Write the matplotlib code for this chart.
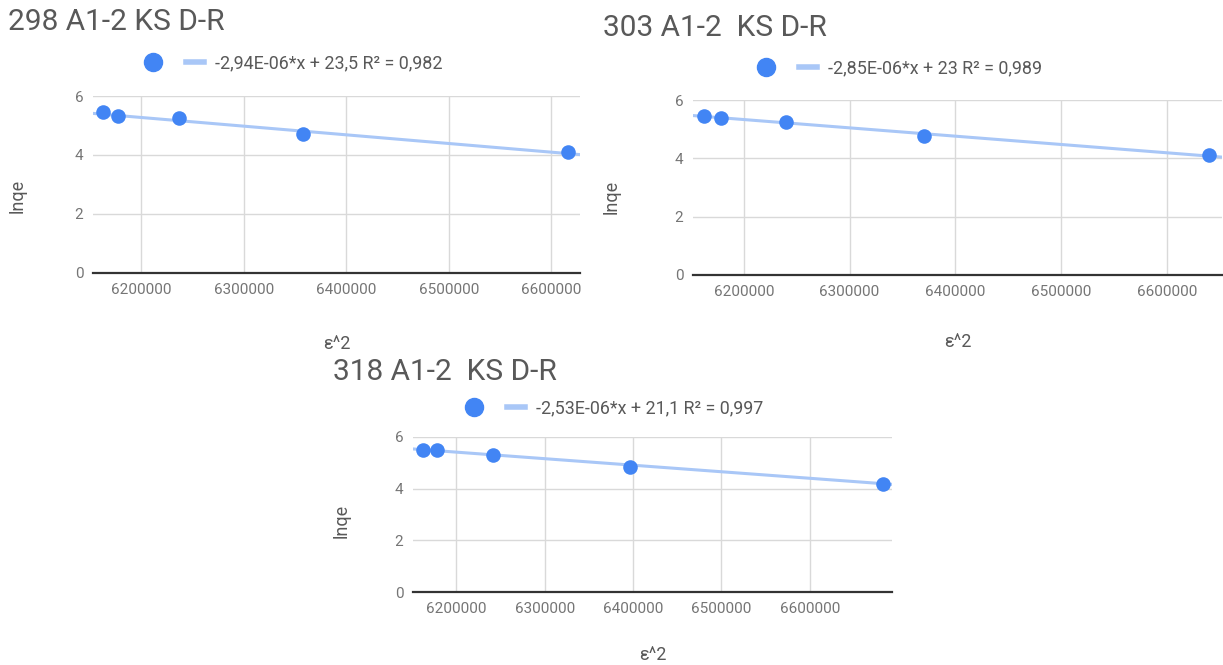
import matplotlib.pyplot as plt
from matplotlib.lines import Line2D

plt.rcParams['font.family'] = ['Roboto', 'DejaVu Sans']

titles = ["298 A1-2 KS D-R", "303 A1-2  KS D-R", "318 A1-2  KS D-R"]

eps2_298 = [6163000, 6177000, 6237000, 6358000, 6616000]
lnqe_298 = [5.46, 5.33, 5.25, 4.71, 4.10]
eps2_303 = [6162000, 6178000, 6240000, 6370000, 6640000]
lnqe_303 = [5.45, 5.38, 5.25, 4.76, 4.12]
eps2_318 = [6162000, 6178000, 6242000, 6396000, 6683000]
lnqe_318 = [5.49, 5.49, 5.31, 4.85, 4.20]

slopes = [-2.94e-06, -2.85e-06, -2.53e-06]
intercepts = [23.5, 23.0, 21.1]
trend_labels = ["-2,94E-06*x + 23,5 R² = 0,982",
                "-2,85E-06*x + 23 R² = 0,989",
                "-2,53E-06*x + 21,1 R² = 0,997"]

xticks = [6200000, 6300000, 6400000, 6500000, 6600000]
yticks = [0, 2, 4, 6]

W, H = 1223, 665
fig = plt.figure(figsize=(W / 100, H / 100), dpi=100)

def px_axes(l, t, r, b):
    return fig.add_axes([l / W, 1 - b / H, (r - l) / W, (b - t) / H])

# layout in pixels: axes box, x limits, title pos, legend pos, label coords
panels = [
    dict(box=(93, 96, 580, 273), xlim=(6153000, 6628000), title=(8, 22),
         leg=(144, 63), xlab=(0.5, -0.35), ylab=(-0.137, 0.435),
         x=eps2_298, y=lnqe_298),
    dict(box=(693, 100, 1222, 275), xlim=(6152000, 6652000), title=(603, 28),
         leg=(757, 68), xlab=(0.5, -0.33), ylab=(-0.136, 0.446),
         x=eps2_303, y=lnqe_303),
    dict(box=(413, 437, 892, 592), xlim=(6151000, 6693000), title=(333, 372),
         leg=(465, 408), xlab=(0.5, -0.35), ylab=(-0.13, 0.46),
         x=eps2_318, y=lnqe_318),
]

blue = '#4285f4'
trend_col = '#a9c7f7'
grey = '#757575'
dark = '#595959'

for i, p in enumerate(panels):
    ax = px_axes(*p['box'])
    x0, x1 = p['xlim']
    ax.set_xlim(x0, x1)
    ax.set_ylim(0, 6)
    ax.plot([x0, x1], [slopes[i] * x0 + intercepts[i], slopes[i] * x1 + intercepts[i]],
            color=trend_col, lw=2.2, zorder=2)
    ax.scatter(p['x'], p['y'], s=110, color=blue, zorder=3, linewidths=0)
    ax.set_xticks(xticks)
    ax.set_xticklabels([str(v) for v in xticks])
    ax.set_yticks(yticks)
    ax.grid(True, color='#d9d9d9', lw=1)
    ax.set_axisbelow(True)
    for s in ['top', 'right', 'left']:
        ax.spines[s].set_visible(False)
    ax.spines['bottom'].set_color('#333333')
    ax.spines['bottom'].set_linewidth(1.6)
    ax.spines['bottom'].set_zorder(4)
    ax.tick_params(length=0, labelsize=11, labelcolor=grey, pad=7)
    ax.set_xlabel("ε^2", fontsize=13, color=dark)
    ax.xaxis.set_label_coords(*p['xlab'])
    ax.set_ylabel("lnqe", fontsize=13, color=dark)
    ax.yaxis.set_label_coords(*p['ylab'])

    tx, ty = p['title']
    fig.text(tx / W, 1 - ty / H, titles[i], fontsize=21.5, color=dark,
             ha='left', va='center')

    handles = [Line2D([], [], marker='o', ls='none', color=blue, markersize=13),
               Line2D([], [], color=trend_col, lw=4)]
    lx, ly = p['leg']
    fig.legend(handles, ['', trend_labels[i]], loc='center left', ncol=2,
               bbox_to_anchor=(lx / W, 1 - ly / H), frameon=False,
               fontsize=12.9, labelcolor=dark, handlelength=1.0,
               handletextpad=0.63, columnspacing=0.71,
               borderpad=0, borderaxespad=0)

fig.savefig('out.png', dpi=100)
